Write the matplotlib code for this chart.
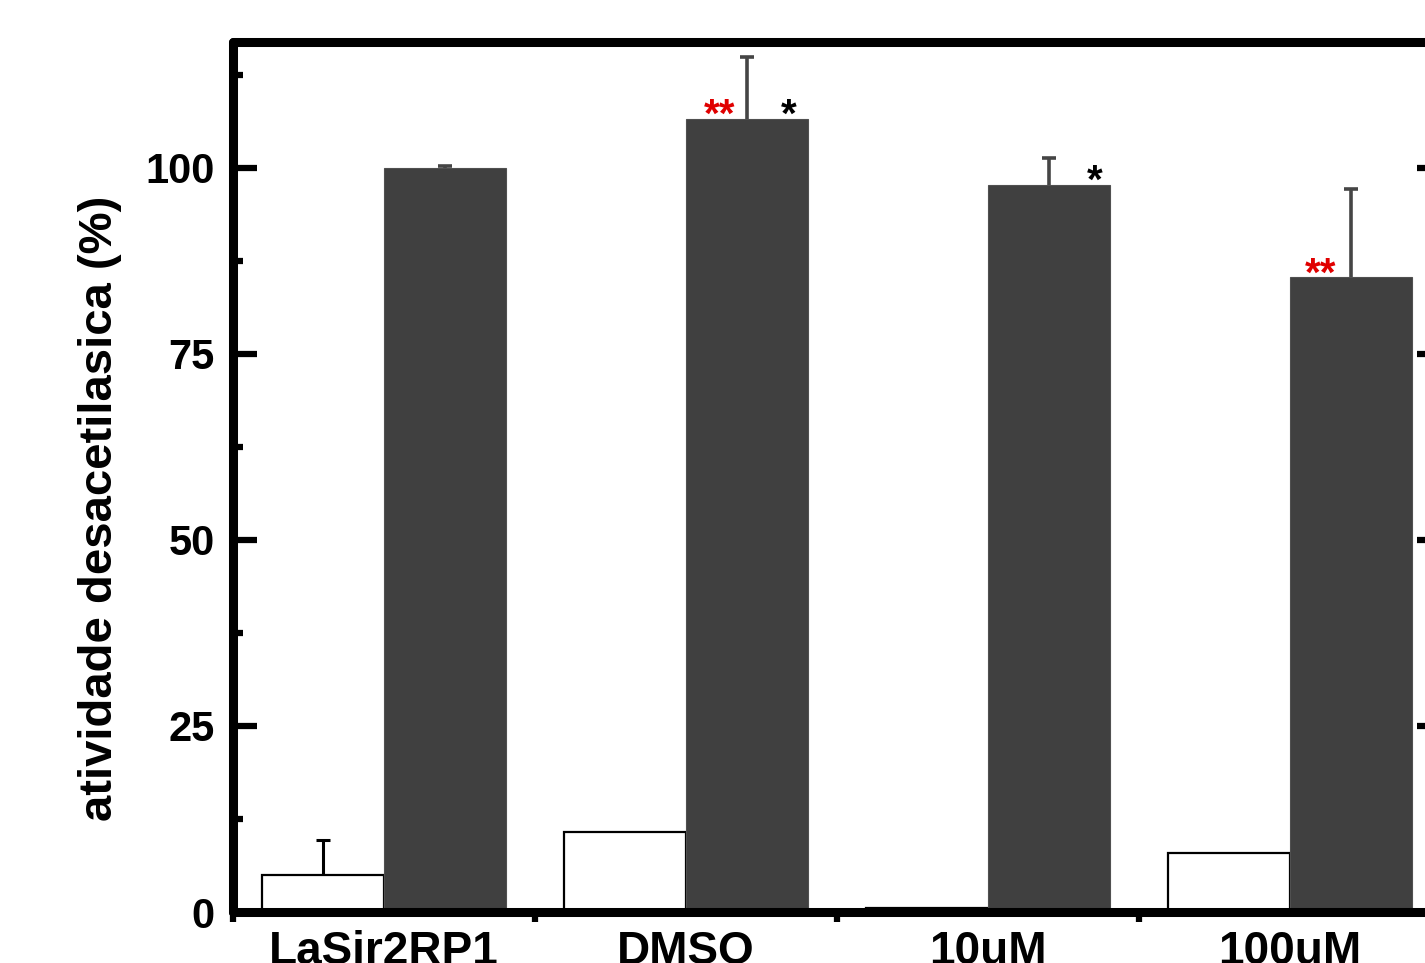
import matplotlib
matplotlib.use("Agg")
import matplotlib.pyplot as plt
import numpy as np
from matplotlib.ticker import MultipleLocator, FixedLocator

plt.rcParams['font.family'] = ['Liberation Sans', 'DejaVu Sans']
plt.rcParams['font.weight'] = 'bold'

categories = ["LaSir2RP1", "DMSO", "10uM", "100uM"]
white_values = [5.0, 10.7, 0.5, 7.9]
white_err = [4.7, 0.0, 0.0, 0.0]
dark_values = [100.0, 106.6, 97.7, 85.3]
dark_err = [0.2, 8.3, 3.6, 11.9]
# significance annotations: (group index, x offset in group units, text, colour)
annotations = [
    (1, 0.11, "**", "#e00000"),
    (1, 0.34, "*", "black"),
    (2, 0.355, "*", "black"),
    (3, 0.10, "**", "#e00000"),
]
ylabel = "atividade desacetilasica (%)"
yticks = [0, 25, 50, 75, 100]

fig = plt.figure(figsize=(14.25, 9.63), dpi=100)
ax = fig.add_axes([233/1425, 51/963, (1441-233)/1425, 870/963])

x = np.arange(len(categories))
w = 0.404
dark = "#404040"

ax.bar(x - w/2, white_values, width=w, color="white", edgecolor="black",
       linewidth=1.6, zorder=2)
ax.bar(x + w/2, dark_values, width=w, color=dark, edgecolor="#505050",
       linewidth=0.8, zorder=2)

def up_err(xc, val, err, col, lw):
    _, caps, _ = ax.errorbar(xc, val, yerr=[[0], [err]], fmt='none',
                             ecolor=col, elinewidth=lw, capsize=5,
                             capthick=lw, zorder=3)
    if len(caps) == 2:
        caps[0].set_visible(False)

for i in range(len(x)):
    if white_err[i] > 0:
        up_err(x[i] - w/2, white_values[i], white_err[i], "black", 2.2)
    if dark_err[i] > 0:
        up_err(x[i] + w/2, dark_values[i], dark_err[i], "#454545", 2.6)

for gi, dx, txt, col in annotations:
    ax.annotate(txt, xy=(x[gi] + dx, dark_values[gi]), xytext=(0, -6),
                textcoords='offset points', ha='center', va='baseline',
                fontsize=29, fontweight='bold', color=col, zorder=4,
                annotation_clip=False)

ax.set_xlim(-0.5, 3.5)
ax.set_ylim(0, 116.9)

ax.set_xticks(x)
ax.set_xticklabels(categories, fontsize=33, fontweight='bold')
ax.xaxis.set_minor_locator(FixedLocator([-0.5, 0.5, 1.5, 2.5, 3.5]))
ax.tick_params(axis='x', which='major', length=0, pad=13)
ax.tick_params(axis='x', which='minor', direction='out', length=7, width=4.5,
               bottom=True, top=False)

ax.set_yticks(yticks)
ax.set_yticklabels([str(t) for t in yticks], fontsize=30, fontweight='bold')
ax.yaxis.set_minor_locator(MultipleLocator(12.5))
ax.tick_params(axis='y', which='major', direction='in', length=17, width=4.5,
               left=True, right=True, pad=13)
ax.tick_params(axis='y', which='minor', direction='in', length=7, width=4.5,
               left=True, right=True)

for s in ax.spines.values():
    s.set_linewidth(6.5)
    s.set_capstyle('round')
    s.set_zorder(5)

ax.set_ylabel(ylabel, fontsize=34, fontweight='bold')
ax.yaxis.set_label_coords(-0.092, 0.464)

fig.savefig("out.png", dpi=100)
